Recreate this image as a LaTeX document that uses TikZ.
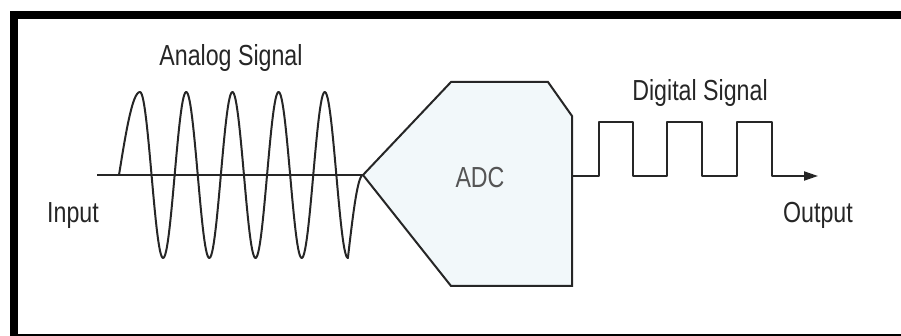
\documentclass[tikz,border=0pt]{standalone}
\usepackage{fontspec}
\newfontfamily\narrowsans{Liberation Sans}[FakeStretch=0.8]
\usepackage{tikz}
\usetikzlibrary{arrows.meta,positioning}

\definecolor{inkgray}{HTML}{262626}
\definecolor{adcfill}{HTML}{F2F8FA}
\definecolor{adctext}{HTML}{555555}

\begin{document}
\begin{tikzpicture}[
    x=1pt, y=-1pt,
    >={Triangle[length=14pt,width=9pt]},
    line width=2pt,
    sig/.style={draw=inkgray, line join=round},
    adc block/.style={draw=inkgray, fill=adcfill, line join=miter},
    label/.style={font=\narrowsans\fontsize{29}{32}\selectfont, text=inkgray, anchor=base, inner sep=0pt},
    frame/.style={fill=black, draw=none}
]
    \useasboundingbox (0,0) rectangle (901,336);

    % black frame, open on the right
    \fill[frame] (10,11) rectangle (901,19);
    \fill[frame] (10,11) rectangle (18,336);
    \fill[frame] (10,334) rectangle (901,336);

    % ADC block
    \coordinate (apex) at (363,175);
    \coordinate (adcR) at (572,176);
    \path[adc block] (apex) -- (451,82) -- (548,82) -- (572,116)
        -- (572,286) -- (451,286) -- cycle;
    \node[label, text=adctext] (adc) at (480,188) {ADC};

    % analog input
    \coordinate (inp) at (97,175);
    \draw[sig] (inp) -- (apex);
    \draw[sig] plot[domain=0:1, samples=20] ({119+21*\x},{175-83*sin(90*\x)})
        -- plot[domain=0:4.5, samples=240] ({140+46.2*\x},{175-83*cos(360*\x)})
        -- plot[domain=0:1, samples=20] ({347.9+15.1*\x},{258-83*sin(90*\x)});

    % digital output
    \coordinate (outtip) at (818,176);
    \draw[sig, ->] (adcR) -- (599,176) -- (599,122) -- (633,122) -- (633,176)
        -- (667,176) -- (667,122) -- (702,122) -- (702,176)
        -- (737,176) -- (737,122) -- (772,122) -- (772,176) -- (outtip);

    % labels
    \node[label] (analog) at (231,66) {Analog Signal};
    \node[label] (digital) at (700,101) {Digital Signal};
    \node[label] (input) at (73,223) {Input};
    \node[label] (output) at (818,223) {Output};
\end{tikzpicture}
\end{document}
